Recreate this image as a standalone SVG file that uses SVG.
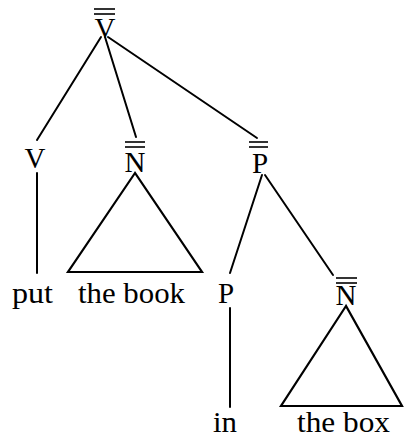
<svg xmlns="http://www.w3.org/2000/svg" width="404" height="443" viewBox="0 0 404 443">
<style>
text{font-family:"Liberation Serif","DejaVu Serif",serif;font-size:29px;fill:#000}
.c{text-anchor:middle}
.bar{stroke:#000;stroke-width:1.6}
.e{stroke:#000;stroke-width:2;fill:none;stroke-linecap:round}
.tri{stroke:#000;stroke-width:2.2;fill:none;stroke-linejoin:miter}
</style>
<rect width="404" height="443" fill="#fff"/>
<g id="connectors">
<line class="e" x1="101" y1="37" x2="37" y2="140"/>
<line class="e" x1="105" y1="37" x2="136" y2="137"/>
<line class="e" x1="108" y1="37" x2="257" y2="138"/>
<line class="e" x1="37" y1="173" x2="37" y2="273"/>
<line class="e" x1="262" y1="175" x2="230" y2="273"/>
<line class="e" x1="265" y1="175" x2="333" y2="275"/>
<line class="e" x1="230" y1="308" x2="230" y2="407"/>
<polygon class="tri" points="135,173 68,272 202,272"/>
<polygon class="tri" points="346,306 281,406 402,406"/>
</g>
<g id="n-Vbar2">
<line class="bar" x1="94" y1="9" x2="115" y2="9"/>
<line class="bar" x1="94" y1="14" x2="115" y2="14"/>
<text class="c" x="105" y="38">V</text>
</g>
<g id="n-V">
<text class="c" x="35" y="168">V</text>
</g>
<g id="n-Nbar2-a">
<line class="bar" x1="125" y1="142" x2="145" y2="142"/>
<line class="bar" x1="125" y1="147" x2="145" y2="147"/>
<text class="c" x="135" y="172">N</text>
</g>
<g id="n-Pbar2">
<line class="bar" x1="249" y1="142" x2="268" y2="142"/>
<line class="bar" x1="249" y1="147" x2="268" y2="147"/>
<text class="c" x="260" y="173">P</text>
</g>
<g id="n-put">
<text x="12" y="303" textLength="41" lengthAdjust="spacingAndGlyphs">put</text>
</g>
<g id="n-thebook">
<text x="78" y="303" textLength="107" lengthAdjust="spacingAndGlyphs">the book</text>
</g>
<g id="n-P">
<text class="c" x="226" y="303">P</text>
</g>
<g id="n-Nbar2-b">
<line class="bar" x1="336" y1="278" x2="357" y2="278"/>
<line class="bar" x1="336" y1="283" x2="357" y2="283"/>
<text class="c" x="346" y="305">N</text>
</g>
<g id="n-in">
<text x="213" y="432" textLength="24" lengthAdjust="spacingAndGlyphs">in</text>
</g>
<g id="n-thebox">
<text x="297" y="432" textLength="93" lengthAdjust="spacingAndGlyphs">the box</text>
</g>
</svg>
